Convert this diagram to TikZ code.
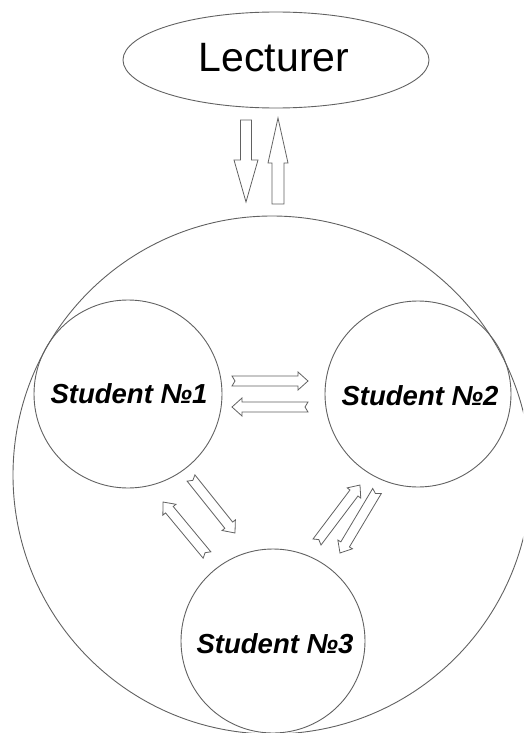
\documentclass[tikz,border=0pt]{standalone}
\usepackage{fontspec}
\setmainfont{Liberation Sans}
\usetikzlibrary{calc,shapes.geometric}
\tikzset{
  outline/.style={draw=black!62, line width=0.9pt},
  arrowline/.style={draw=black!62, line width=0.8pt, line join=miter},
  lecttext/.style={font=\fontsize{41}{41}\selectfont, anchor=base, inner sep=0pt},
  studtext/.style={font=\fontsize{27.5}{28}\selectfont\bfseries\itshape, anchor=base, inner sep=0pt},
}
% #1 tail, #2 tip, #3 shaft half width, #4 head half width, #5 head length, #6 tail notch
\newcommand\hollowarrow[6]{%
  \draw[arrowline] let \p1=(#1), \p2=(#2),
     \n1={atan2(\y2-\y1,\x2-\x1)}, \n2={veclen(\x2-\x1,\y2-\y1)} in
   [shift={(\p1)}, rotate=\n1]
   (0,-#3) -- ({\n2-#5},-#3) -- ({\n2-#5},-#4) -- (\n2,0) -- ({\n2-#5},#4)
   -- ({\n2-#5},#3) -- (0,#3) -- (#6,0) -- cycle;}
\begin{document}
\begin{tikzpicture}[x=1pt,y=-1pt]
\useasboundingbox (0,0) rectangle (523,733);
\clip (0,0) rectangle (523,733);
% lecturer
\node[outline, ellipse, minimum width=306pt, minimum height=96pt, inner sep=0pt] (lect) at (276,60) {};
\node[lecttext] (lecttxt) at (274,72) {Lecturer};
% class circle
\node[outline, circle, minimum size=518pt, inner sep=0pt] (class) at (272,475) {};
% students
\node[outline, circle, minimum size=188pt, inner sep=0pt] (s1) at (128,394) {};
\node[outline, circle, minimum size=186pt, inner sep=0pt] (s2) at (418,394) {};
\node[outline, circle, minimum size=184pt, inner sep=0pt] (s3) at (273,641) {};
\node[studtext] (s1txt) at (129,403) {Student №1};
\node[studtext] (s2txt) at (420,405) {Student №2};
\node[studtext] (s3txt) at (275,653) {Student №3};
% arrow end points
\coordinate (dnT) at (246,120); \coordinate (dnH) at (246,202);
\coordinate (upT) at (278,204); \coordinate (upH) at (278,118);
\coordinate (h1T) at (232,381); \coordinate (h1H) at (308,381);
\coordinate (h2T) at (308,407); \coordinate (h2H) at (232,407);
\coordinate (aT) at (207,555); \coordinate (aH) at (163,502);
\coordinate (bT) at (191,478); \coordinate (bH) at (235,533);
\coordinate (cT) at (317,542); \coordinate (cH) at (360,485);
\coordinate (dT) at (377,491); \coordinate (dH) at (340,553);
% arrows
\hollowarrow{dnT}{dnH}{5.5}{12}{42}{0}
\hollowarrow{upT}{upH}{6}{10}{45}{0}
\hollowarrow{h1T}{h1H}{5}{9}{10}{3}
\hollowarrow{h2T}{h2H}{5}{9}{10}{3}
\hollowarrow{aT}{aH}{5}{8.5}{10}{3}
\hollowarrow{bT}{bH}{5}{8.5}{10}{3}
\hollowarrow{cT}{cH}{5}{8.5}{10}{3}
\hollowarrow{dT}{dH}{5}{8.5}{10}{3}
\end{tikzpicture}
\end{document}
